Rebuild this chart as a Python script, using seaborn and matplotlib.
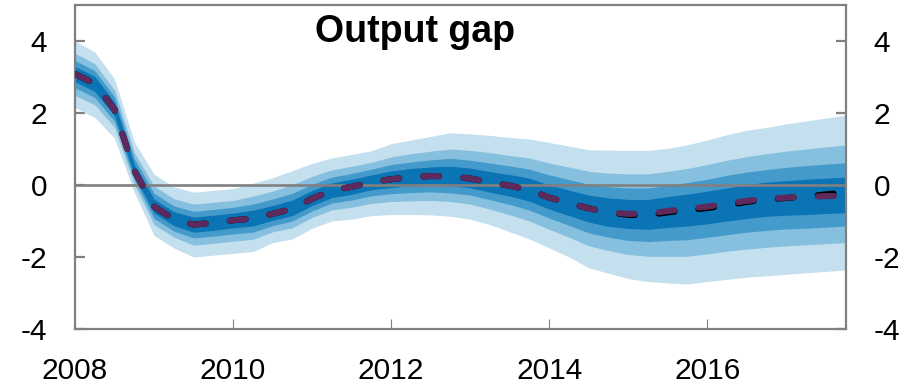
import numpy as np
import pandas as pd
import matplotlib
matplotlib.use("Agg")
import matplotlib.pyplot as plt
import seaborn as sns

# Quarterly dates, 2008Q1 .. 2017Q4
quarters = np.arange(2008.0, 2018.0, 0.25)

# Central projection (dashed purple) and alternative projection (black)
median = [3.08, 2.82, 2.10, 0.40, -0.60, -0.95, -1.10, -1.05, -0.98, -0.93,
          -0.80, -0.66, -0.38, -0.15, -0.05, 0.08, 0.16, 0.22, 0.25, 0.24,
          0.18, 0.07, -0.02, -0.14, -0.35, -0.50, -0.65, -0.76, -0.80, -0.80,
          -0.72, -0.66, -0.60, -0.52, -0.44, -0.38, -0.35, -0.33, -0.31, -0.30]
alternative = [3.08, 2.82, 2.10, 0.40, -0.60, -0.95, -1.10, -1.05, -0.98, -0.93,
               -0.80, -0.66, -0.38, -0.15, -0.05, 0.08, 0.16, 0.22, 0.25, 0.24,
               0.18, 0.07, -0.02, -0.14, -0.35, -0.50, -0.65, -0.76, -0.83, -0.84,
               -0.76, -0.70, -0.64, -0.56, -0.47, -0.40, -0.36, -0.32, -0.26, -0.20]

# Uncertainty bands (90%, 70%, 50%, 30%)
hi90 = [4.00, 3.70, 2.95, 1.20, 0.30, -0.05, -0.20, -0.15, -0.10, 0.05,
        0.20, 0.40, 0.60, 0.75, 0.85, 0.95, 1.15, 1.25, 1.35, 1.45,
        1.42, 1.38, 1.32, 1.28, 1.18, 1.08, 0.98, 0.97, 0.96, 0.96,
        1.02, 1.12, 1.25, 1.40, 1.52, 1.60, 1.70, 1.78, 1.86, 1.94]
lo90 = [2.15, 1.88, 1.30, -0.20, -1.40, -1.75, -2.00, -1.95, -1.90, -1.85,
        -1.60, -1.50, -1.20, -1.00, -0.95, -0.85, -0.82, -0.82, -0.83, -0.87,
        -0.95, -1.10, -1.30, -1.50, -1.75, -2.00, -2.30, -2.45, -2.60, -2.68,
        -2.72, -2.75, -2.68, -2.62, -2.56, -2.52, -2.48, -2.44, -2.40, -2.36]
hi70 = [3.66, 3.37, 2.64, 0.90, -0.03, -0.38, -0.53, -0.48, -0.43, -0.31,
        -0.17, 0.01, 0.24, 0.42, 0.52, 0.63, 0.78, 0.87, 0.94, 1.00,
        0.96, 0.90, 0.82, 0.75, 0.61, 0.50, 0.38, 0.33, 0.31, 0.31,
        0.38, 0.46, 0.57, 0.69, 0.79, 0.87, 0.94, 1.00, 1.06, 1.11]
lo70 = [2.49, 2.23, 1.60, 0.02, -1.10, -1.45, -1.67, -1.62, -1.56, -1.51,
        -1.30, -1.19, -0.90, -0.69, -0.62, -0.51, -0.46, -0.44, -0.43, -0.46,
        -0.53, -0.67, -0.83, -1.00, -1.23, -1.45, -1.69, -1.82, -1.93, -1.98,
        -1.98, -1.98, -1.91, -1.84, -1.78, -1.73, -1.69, -1.66, -1.63, -1.60]
hi50 = [3.46, 3.18, 2.45, 0.73, -0.23, -0.58, -0.73, -0.68, -0.62, -0.53,
        -0.39, -0.23, 0.02, 0.22, 0.32, 0.44, 0.57, 0.64, 0.70, 0.74,
        0.69, 0.61, 0.53, 0.44, 0.28, 0.15, 0.02, -0.05, -0.08, -0.08,
        -0.01, 0.07, 0.16, 0.27, 0.36, 0.43, 0.49, 0.54, 0.58, 0.62]
lo50 = [2.70, 2.43, 1.77, 0.15, -0.93, -1.28, -1.47, -1.42, -1.36, -1.31,
        -1.13, -1.00, -0.72, -0.50, -0.42, -0.30, -0.24, -0.21, -0.19, -0.22,
        -0.28, -0.41, -0.54, -0.70, -0.92, -1.12, -1.33, -1.45, -1.54, -1.57,
        -1.54, -1.52, -1.45, -1.38, -1.31, -1.26, -1.22, -1.20, -1.17, -1.14]
hi30 = [3.29, 3.02, 2.30, 0.58, -0.39, -0.74, -0.89, -0.84, -0.78, -0.70,
        -0.57, -0.42, -0.15, 0.06, 0.16, 0.28, 0.39, 0.46, 0.50, 0.52,
        0.47, 0.37, 0.29, 0.19, 0.00, -0.14, -0.28, -0.36, -0.40, -0.40,
        -0.32, -0.25, -0.17, -0.08, 0.01, 0.08, 0.12, 0.16, 0.19, 0.22]
lo30 = [2.87, 2.60, 1.92, 0.26, -0.78, -1.13, -1.31, -1.26, -1.19, -1.14,
        -0.98, -0.85, -0.57, -0.35, -0.26, -0.13, -0.07, -0.02, 0.00, -0.02,
        -0.08, -0.20, -0.31, -0.45, -0.67, -0.85, -1.03, -1.15, -1.21, -1.23,
        -1.18, -1.14, -1.08, -1.00, -0.93, -0.87, -0.84, -0.82, -0.79, -0.77]

x_ticks = [2008, 2010, 2012, 2014, 2016]
y_ticks = [-4, -2, 0, 2, 4]

band_colors = ["#c4e0ef", "#86c0de", "#449bcb", "#0a74b4"]
purple = "#5e2a5e"
grey = "#808080"

df = pd.DataFrame({"year": quarters, "median": median, "alternative": alternative,
                   "lo90": lo90, "hi90": hi90, "lo70": lo70, "hi70": hi70,
                   "lo50": lo50, "hi50": hi50, "lo30": lo30, "hi30": hi30})

sns.set_theme(style="white")
plt.rcParams["font.family"] = ["Liberation Sans", "DejaVu Sans"]
plt.rcParams["axes.unicode_minus"] = False
plt.rcParams["text.color"] = "black"

fig = plt.figure(figsize=(9.12, 3.84), dpi=100)
ax = fig.add_axes([0.0822, 0.1432, 0.9273 - 0.0822, 0.987 - 0.1432])

for (lo, hi), col in zip([("lo90", "hi90"), ("lo70", "hi70"),
                          ("lo50", "hi50"), ("lo30", "hi30")], band_colors):
    ax.fill_between(df["year"], df[lo], df[hi], color=col, lw=0, zorder=1)

ax.axhline(0, color=grey, lw=1.9, zorder=3)

sns.lineplot(data=df, x="year", y="alternative", ax=ax, color="black",
             linewidth=4.4, zorder=4)
sns.lineplot(data=df, x="year", y="median", ax=ax, color=purple,
             linewidth=4.4, zorder=5)
for line in ax.lines[-2:]:
    line.set_dashes([2.6, 3.95])
    line.set_dash_capstyle("round")

ax.set_xlim(2008, 2017.75)
ax.set_ylim(-4, 5)
ax.set_xticks(x_ticks)
ax.set_xticklabels([str(t) for t in x_ticks])
ax.set_yticks(y_ticks)
ax.set_yticklabels([str(t) for t in y_ticks])
ax.set_xlabel("")
ax.set_ylabel("")

for sp in ax.spines.values():
    sp.set_visible(True)
    sp.set_color(grey)
    sp.set_linewidth(1.6)

ax.tick_params(axis="both", direction="in", labelcolor="black", labelsize=21.5, pad=20)
ax.tick_params(axis="y", left=True, right=True, labelleft=True, labelright=True,
               length=7, width=1.6, color=grey)
ax.tick_params(axis="x", bottom=True, top=False, length=7, width=0.8, color=grey)

ax.text(0.311, 0.887, "Output gap", transform=ax.transAxes, fontsize=27,
        fontweight="bold", color="black", ha="left", va="baseline", zorder=6)

fig.savefig("out.png", dpi=100)
